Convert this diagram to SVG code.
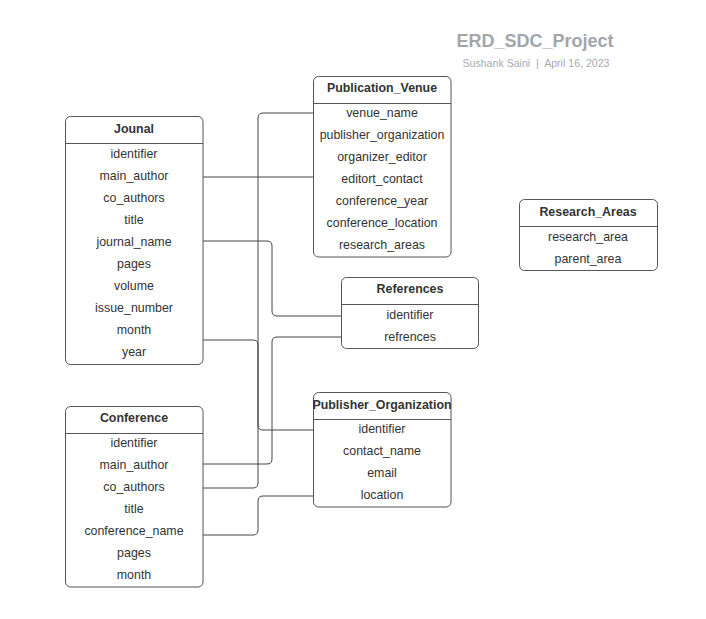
<svg xmlns="http://www.w3.org/2000/svg" width="706" height="619" viewBox="0 0 706 619">
<style>
.box{fill:#fff;stroke:#555;stroke-width:1}
.hd{stroke:#555;stroke-width:1}
.t{font-family:"Liberation Sans",Arial,sans-serif;font-size:12.4px;fill:#333;text-anchor:middle}
.b{font-weight:bold}
.c{fill:none;stroke:#444;stroke-width:1}
</style>
<rect width="706" height="619" fill="#fff"/>
<g id="title">
<text x="535" y="47" style="font-family:'Liberation Sans',Arial,sans-serif;font-size:18px;font-weight:bold;fill:#a2a5ac;text-anchor:middle">ERD_SDC_Project</text>
<text x="536" y="67" xml:space="preserve" style="font-family:'Liberation Sans',Arial,sans-serif;font-size:10.6px;fill:#a8abb2;text-anchor:middle;white-space:pre">Sushank Saini  |  April 16, 2023</text>
</g>
<g id="connectors">
<path class="c" d="M203,177 H313"/>
<path class="c" d="M313,113 H263 Q258,113 258,118 V425 Q258,430 263,430 H313"/>
<path class="c" d="M203,340 H253 Q258,340 258,345 V483 Q258,488 253,488 H203"/>
<path class="c" d="M203,241 H267 Q272,241 272,246 V311 Q272,316 277,316 H341"/>
<path class="c" d="M341,337 H277 Q272,337 272,342 V459 Q272,464 267,464 H203"/>
<path class="c" d="M313,496 H263 Q258,496 258,501 V530 Q258,535 253,535 H203"/>
</g>
<g id="journal">
<rect class="box" x="65.5" y="116.5" width="137.5" height="248" rx="5"/>
<line class="hd" x1="65.5" y1="143.5" x2="203" y2="143.5"/>
<text class="t b" x="134" y="133">Jounal</text>
<text class="t" x="134" y="158">identifier</text>
<text class="t" x="134" y="180">main_author</text>
<text class="t" x="134" y="202">co_authors</text>
<text class="t" x="134" y="224">title</text>
<text class="t" x="134" y="246">journal_name</text>
<text class="t" x="134" y="268">pages</text>
<text class="t" x="134" y="290">volume</text>
<text class="t" x="134" y="312">issue_number</text>
<text class="t" x="134" y="334">month</text>
<text class="t" x="134" y="356">year</text>
</g>
<g id="publication_venue">
<rect class="box" x="313.5" y="76.5" width="137.5" height="180.5" rx="5"/>
<line class="hd" x1="313.5" y1="103.5" x2="451" y2="103.5"/>
<text class="t b" x="382" y="92">Publication_Venue</text>
<text class="t" x="382" y="117">venue_name</text>
<text class="t" x="382" y="139">publisher_organization</text>
<text class="t" x="382" y="161">organizer_editor</text>
<text class="t" x="382" y="183">editort_contact</text>
<text class="t" x="382" y="205">conference_year</text>
<text class="t" x="382" y="227">conference_location</text>
<text class="t" x="382" y="249">research_areas</text>
</g>
<g id="references">
<rect class="box" x="341.5" y="277.5" width="137" height="71" rx="5"/>
<line class="hd" x1="341.5" y1="304.5" x2="478.5" y2="304.5"/>
<text class="t b" x="410" y="293">References</text>
<text class="t" x="410" y="319">identifier</text>
<text class="t" x="410" y="341">refrences</text>
</g>
<g id="research_areas">
<rect class="box" x="519.5" y="199.5" width="138" height="71" rx="5"/>
<line class="hd" x1="519.5" y1="226.5" x2="657.5" y2="226.5"/>
<text class="t b" x="588" y="216">Research_Areas</text>
<text class="t" x="588" y="241">research_area</text>
<text class="t" x="588" y="263">parent_area</text>
</g>
<g id="publisher_organization">
<rect class="box" x="313.5" y="392.5" width="137.5" height="114.5" rx="5"/>
<line class="hd" x1="313.5" y1="419.5" x2="451" y2="419.5"/>
<text class="t b" x="382" y="408.5">Publisher_Organization</text>
<text class="t" x="382" y="433">identifier</text>
<text class="t" x="382" y="455">contact_name</text>
<text class="t" x="382" y="477">email</text>
<text class="t" x="382" y="499">location</text>
</g>
<g id="conference">
<rect class="box" x="65.5" y="406.5" width="137.5" height="180.5" rx="5"/>
<line class="hd" x1="65.5" y1="433.5" x2="203" y2="433.5"/>
<text class="t b" x="134" y="422">Conference</text>
<text class="t" x="134" y="447">identifier</text>
<text class="t" x="134" y="469">main_author</text>
<text class="t" x="134" y="491">co_authors</text>
<text class="t" x="134" y="513">title</text>
<text class="t" x="134" y="535">conference_name</text>
<text class="t" x="134" y="557">pages</text>
<text class="t" x="134" y="579">month</text>
</g>
</svg>
